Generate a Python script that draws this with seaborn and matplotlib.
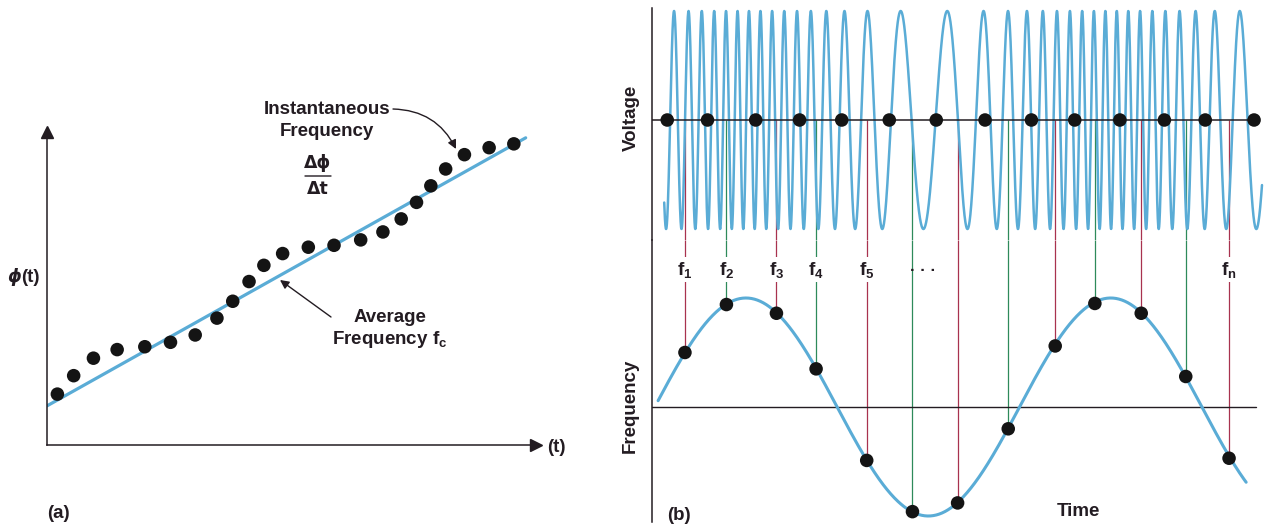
import numpy as np
import pandas as pd
import matplotlib
matplotlib.use("Agg")
import matplotlib.pyplot as plt
import seaborn as sns

# ---------------- panel (a): phase vs time ----------------
phase_t = [0.21, 0.54, 0.94, 1.42, 1.98, 2.50, 3.00, 3.44, 3.76, 4.09, 4.39, 4.77,
           5.29, 5.81, 6.35, 6.80, 7.17, 7.48, 7.77, 8.07, 8.45, 8.95, 9.45]
phase_phi = [1.60, 2.18, 2.73, 3.00, 3.09, 3.23, 3.46, 3.99, 4.52, 5.14, 5.65, 6.02,
             6.22, 6.28, 6.45, 6.70, 7.11, 7.63, 8.15, 8.68, 9.13, 9.35, 9.47]
avg_t = [0.0, 9.69]
avg_phi = [1.23, 9.66]

# ---------------- panel (b): FM signal and frequency ----------------
gate_t = [0.25, 0.91, 1.70, 2.42, 3.11, 3.89, 4.66, 5.46, 6.22, 6.93, 7.67, 8.40, 9.07, 9.87]
meas_t = [0.54, 1.22, 2.04, 2.69, 3.52, 4.27, 5.01, 5.84, 6.61, 7.26, 8.02, 8.75, 9.46]
meas_f = [0.50, 0.94, 0.86, 0.35, -0.49, -0.96, -0.88, -0.20, 0.56, 0.95, 0.86, 0.28, -0.47]
meas_labels = ["f$_1$", "f$_2$", "f$_3$", "f$_4$", "f$_5$", "", "", "", "", "", "", "", "f$_n$"]

# modulation (time units, cycles per unit)
MOD_PERIOD = 5.98
MOD_T0 = 0.045
CARRIER = 3.3
DEVIATION = 2.05
CARRIER_PHASE = -0.348
wave_span = (0.2, 10.0)
freq_span = (0.1, 9.74)

BLUE = "#5aacd6"
INK = "#231c22"
DOT = "#141414"
LINE_COLORS = ["#a8324f", "#2e8a5a"]

sns.set_theme(style="white")
plt.rcParams["font.family"] = ["Liberation Sans", "DejaVu Sans"]
plt.rcParams["font.weight"] = "bold"
plt.rcParams["mathtext.fontset"] = "custom"
plt.rcParams["mathtext.rm"] = "Liberation Sans:bold"
plt.rcParams["mathtext.it"] = "Liberation Sans:bold"
plt.rcParams["mathtext.bf"] = "Liberation Sans:bold"

W, H = 1269, 527
FS = 13.5
fig = plt.figure(figsize=(W / 100, H / 100), dpi=100)


def px_axes(x0, y0, x1, y1):
    return fig.add_axes([x0 / W, 1 - y1 / H, (x1 - x0) / W, (y1 - y0) / H])


def fp(x, y):
    return (x, H - y)


def label(x, y, s, size=FS, **kw):
    fig.text(x / W, 1 - y / H, s, size=size, color=INK, fontweight="bold",
             ha=kw.pop("ha", "center"), va=kw.pop("va", "center"), **kw)


# ---- panel (a) ----
ax_a = px_axes(47, 132, 536, 445)
ax_a.set_xlim(0, 489 / 49.4)
ax_a.set_ylim(0, 313 / 31.8)
sns.lineplot(x=avg_t, y=avg_phi, ax=ax_a, color=BLUE, lw=2.3, zorder=2)
sns.scatterplot(x=phase_t, y=phase_phi, ax=ax_a, s=95, color=DOT, edgecolor="none",
                zorder=3, clip_on=False, legend=False)
ax_a.set_xticks([])
ax_a.set_yticks([])
ax_a.set_xlabel("")
ax_a.set_ylabel("")
sns.despine(ax=ax_a)
for side in ["left", "bottom"]:
    ax_a.spines[side].set_color(INK)
    ax_a.spines[side].set_linewidth(1.1)
ax_a.plot(1, 0, ">", color=INK, ms=8, transform=ax_a.get_yaxis_transform(), clip_on=False)
ax_a.plot(0, 1, "^", color=INK, ms=8, transform=ax_a.get_xaxis_transform(), clip_on=False)

label(14, 277, "ϕ", family=["DejaVu Sans"], size=12.5, style="italic")
label(30, 277, "(t)")
label(547, 447, "(t)", ha="left")
label(47, 513, "(a)", ha="left")
label(327, 110, "Instantaneous")
label(327, 131, "Frequency")
ax_a.annotate("", xy=fp(456, 149), xycoords="figure pixels", xytext=fp(393, 109),
              textcoords="figure pixels",
              arrowprops=dict(arrowstyle="-|>", color=INK, lw=1.0, mutation_scale=13,
                              connectionstyle="arc3,rad=-0.3", shrinkA=0, shrinkB=0))
label(318, 163, "Δϕ", family=["DejaVu Sans"], size=12.5)
ax_a.annotate("", xy=fp(331, 176), xycoords="figure pixels", xytext=fp(305, 176),
              textcoords="figure pixels",
              arrowprops=dict(arrowstyle="-", color=INK, lw=1.0, shrinkA=0, shrinkB=0))
label(318, 189, "Δt", family=["DejaVu Sans"], size=12.5)
label(390, 318, "Average")
label(390, 339, "Frequency f$_\\mathrm{c}$")
ax_a.annotate("", xy=fp(280, 280), xycoords="figure pixels", xytext=fp(331, 317),
              textcoords="figure pixels",
              arrowprops=dict(arrowstyle="-|>", color=INK, lw=1.0, mutation_scale=13,
                              shrinkA=0, shrinkB=0))

# ---- panel (b) ----
ax_v = px_axes(652, 8, 1268, 240)
ax_f = px_axes(652, 240, 1268, 522)
ax_v.set_ylim(-120 / 109, 112 / 109)
ax_f.set_ylim(-115 / 109, 167 / 109)
for ax in (ax_v, ax_f):
    ax.set_xlim(0, 616 / 61)
    ax.set_xticks([])
    ax.set_yticks([])
    sns.despine(ax=ax, bottom=True)
    ax.spines["left"].set_color(INK)
    ax.spines["left"].set_linewidth(1.1)
    ax.patch.set_alpha(0)

t = np.linspace(wave_span[0], wave_span[1], 4000)
cycles = CARRIER * t - DEVIATION * MOD_PERIOD / (2 * np.pi) * np.cos(2 * np.pi * (t - MOD_T0) / MOD_PERIOD)
wave = pd.DataFrame({"t": t, "v": np.cos(2 * np.pi * (cycles + CARRIER_PHASE))})
tf = np.linspace(freq_span[0], freq_span[1], 800)
freq = pd.DataFrame({"t": tf, "f": np.sin(2 * np.pi * (tf - MOD_T0) / MOD_PERIOD)})

colors = [LINE_COLORS[i % 2] for i in range(len(meas_t))]
ax_v.vlines(meas_t, ax_v.get_ylim()[0], 0, colors=colors, lw=0.9, zorder=1)
ax_f.vlines(meas_t, meas_f, ax_f.get_ylim()[1], colors=colors, lw=0.9, zorder=1)

sns.lineplot(data=wave, x="t", y="v", ax=ax_v, color=BLUE, lw=1.8, estimator=None, zorder=2)
ax_v.axhline(0, xmax=9.95 / (616 / 61), color=INK, lw=1.1, zorder=3)
sns.scatterplot(x=gate_t, y=[0] * len(gate_t), ax=ax_v, s=95, color=DOT, edgecolor="none",
                zorder=4, clip_on=False, legend=False)

ax_f.axhline(0, xmax=9.9 / (616 / 61), color=INK, lw=1.0, zorder=1)
sns.lineplot(data=freq, x="t", y="f", ax=ax_f, color=BLUE, lw=2.2, estimator=None, zorder=2)
sns.scatterplot(x=meas_t, y=meas_f, ax=ax_f, s=95, color=DOT, edgecolor="none",
                zorder=4, clip_on=False, legend=False)
for ax in (ax_v, ax_f):
    ax.set_xlabel("")
    ax.set_ylabel("")

for tt, lab in zip(meas_t, meas_labels):
    if lab:
        ax_f.text(tt, 1.26, lab, ha="center", va="center", size=FS, color=INK,
                  fontweight="bold", zorder=5,
                  bbox=dict(boxstyle="square,pad=0.15", fc="white", ec="none"))
ax_f.text(4.44, 1.25, "· · ·", ha="center", va="center", size=12, color=INK, fontweight="bold")

label(631, 118, "Voltage", rotation=90)
label(630, 406, "Frequency", rotation=90)
label(1078, 512, "Time")
label(667, 515, "(b)", ha="left")

fig.savefig("out.png", dpi=100)
